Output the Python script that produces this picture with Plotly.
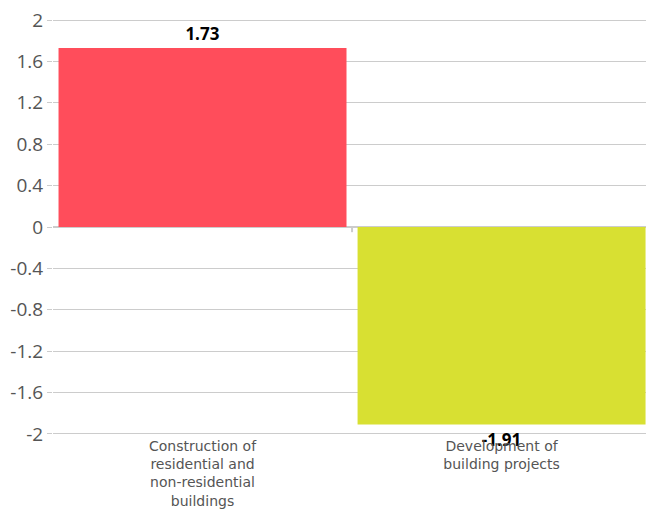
import plotly.graph_objects as go

categories = ["Construction of<br>residential and<br>non-residential<br>buildings",
              "Development of<br>building projects"]
values = [1.73, -1.91]
colors = ["#FF4D5B", "#D8E032"]
tick_vals = [2, 1.6, 1.2, 0.8, 0.4, 0, -0.4, -0.8, -1.2, -1.6, -2]
tick_text = ["2", "1.6", "1.2", "0.8", "0.4", "0", "-0.4", "-0.8", "-1.2", "-1.6", "-2"]

fig = go.Figure(go.Bar(
    x=categories, y=values, marker=dict(color=colors, line=dict(width=0)),
    text=[f"{v:.2f}" for v in values], textposition="outside",
    textfont=dict(family="Open Sans", size=17, color="#000000", weight="bold"),
    cliponaxis=False,
))
fig.add_shape(type="line", xref="x", yref="y", x0=0.5, x1=0.5, y0=0, y1=-0.05,
              line=dict(color="#cccccc", width=2))
fig.update_layout(
    width=646, height=510,
    margin=dict(l=53, r=0, t=18, b=74),
    plot_bgcolor="white", paper_bgcolor="white",
    bargap=0.037, showlegend=False,
    font=dict(family="Open Sans", color="#555555"),
)
fig.update_yaxes(range=[-2.02, 2.02], tickvals=tick_vals, ticktext=tick_text,
                 showgrid=True, gridcolor="#cccccc", gridwidth=1,
                 zeroline=True, zerolinecolor="#cccccc", zerolinewidth=1.5,
                 ticks="outside", ticklen=5, tickcolor="#cccccc",
                 tickfont=dict(size=19, color="#555555"), showline=False,
                 automargin=False)
fig.update_xaxes(tickfont=dict(family="DejaVu Sans", size=14, color="#555555"),
                 showline=False, ticks="", tickangle=0, automargin=False,
                 range=[-0.5, 1.483])
fig.write_html("out.html", config={"displayModeBar": False},
               post_script="document.body.style.margin='0px';document.body.style.overflow='hidden';")
